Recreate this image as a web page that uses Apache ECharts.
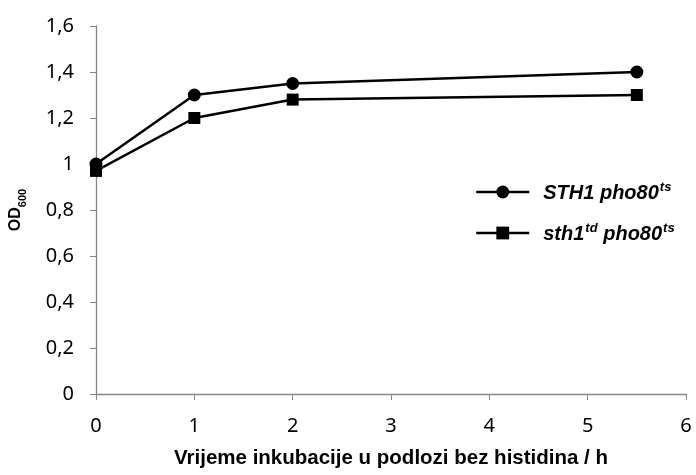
<!DOCTYPE html>
<html>
<head>
<meta charset="utf-8">
<script src="https://cdn.jsdelivr.net/npm/echarts@6/dist/echarts.min.js"></script>
<style>
  html, body { margin: 0; padding: 0; background: #fff; }
  #chart { width: 696px; height: 475px; }
</style>
</head>
<body>
<div id="chart"></div>
<script>
// Incubation time (h) and OD600 readings for both strains
const timeHours = [0, 1, 2, 5.5];
const odSTH1 = [1.00, 1.30, 1.35, 1.40];
const odSth1td = [0.97, 1.20, 1.28, 1.30];
const seriesNames = ['STH1 pho80ts', 'sth1td pho80ts'];

const axisGray = '#868686';
const tickFont = 'Noto Sans, sans-serif';
const boldFont = 'Liberation Sans, Arial, sans-serif';

const chart = echarts.init(document.getElementById('chart'));

function pairs(xs, ys) {
  return xs.map((x, i) => [x, ys[i]]);
}

chart.setOption({
  backgroundColor: '#fff',
  animation: false,
  grid: { left: 96, right: 10, top: 26, bottom: 81, containLabel: false, outerBoundsMode: 'none' },
  legend: {
    left: 475,
    top: 181,
    padding: 0,
    orient: 'vertical',
    itemWidth: 53,
    itemHeight: 16,
    itemGap: 19,
    data: seriesNames,
    lineStyle: { width: 2.5, color: '#000' },
    formatter: function (name) {
      if (name === seriesNames[0]) return '{a|STH1 pho80}{s|ts}';
      return '{a|sth1}{s|td}{a| pho80}{s|ts}';
    },
    textStyle: {
      padding: [0, 0, 0, 9],
      rich: {
        a: { fontFamily: boldFont, fontSize: 20, fontWeight: 'bold', fontStyle: 'italic', color: '#000', lineHeight: 22, verticalAlign: 'bottom' },
        s: { fontFamily: boldFont, fontSize: 13, fontWeight: 'bold', fontStyle: 'italic', color: '#000', lineHeight: 22, verticalAlign: 'top', padding: [0, 0, 0, 1] }
      }
    }
  },
  xAxis: {
    type: 'value',
    min: 0, max: 6, interval: 1,
    name: 'Vrijeme inkubacije u podlozi bez histidina / h',
    nameLocation: 'middle',
    nameGap: 54,
    nameTextStyle: { fontFamily: boldFont, fontSize: 20.5, fontWeight: 'bold', color: '#000' },
    axisLine: { lineStyle: { color: axisGray, width: 1.3 } },
    axisTick: { show: true, inside: false, length: 6, lineStyle: { color: axisGray } },
    axisLabel: { margin: 22, fontFamily: tickFont, fontSize: 20, color: '#000' },
    splitLine: { show: false }
  },
  yAxis: {
    type: 'value',
    min: 0, max: 1.6, interval: 0.2,
    name: '{b|OD}{sub|600}',
    nameLocation: 'middle',
    nameRotate: 90,
    nameGap: 68,
    nameTextStyle: {
      rich: {
        b: { fontFamily: boldFont, fontSize: 16, fontWeight: 'bold', color: '#000', lineHeight: 20, verticalAlign: 'top' },
        sub: { fontFamily: boldFont, fontSize: 11, fontWeight: 'bold', color: '#000', lineHeight: 20, verticalAlign: 'bottom' }
      }
    },
    axisLine: { show: true, lineStyle: { color: axisGray, width: 1.3 } },
    axisTick: { show: true, inside: false, length: 6, lineStyle: { color: axisGray } },
    axisLabel: {
      margin: 22, fontFamily: tickFont, fontSize: 20, color: '#000',
      formatter: v => String(+v.toFixed(1)).replace('.', ',')
    },
    splitLine: { show: false }
  },
  series: [
    {
      name: seriesNames[0],
      type: 'line',
      data: pairs(timeHours, odSTH1),
      symbol: 'circle',
      symbolSize: 13,
      lineStyle: { color: '#000', width: 2.5 },
      itemStyle: { color: '#000' },
      z: 3
    },
    {
      name: seriesNames[1],
      type: 'line',
      data: pairs(timeHours, odSth1td),
      symbol: 'rect',
      symbolSize: 12,
      lineStyle: { color: '#000', width: 2.5 },
      itemStyle: { color: '#000' },
      z: 2
    }
  ]
});
</script>
</body>
</html>
